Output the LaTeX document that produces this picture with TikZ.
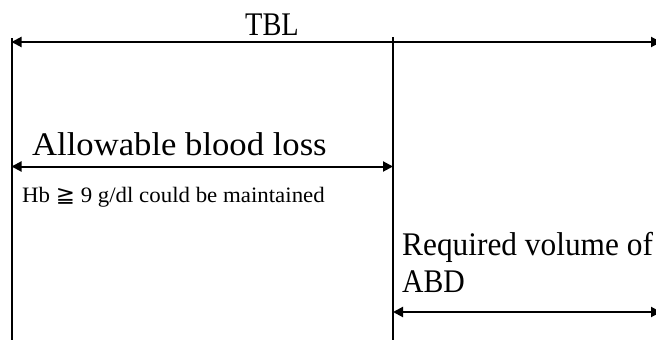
\documentclass[tikz,border=0pt]{standalone}
\usepackage{fontspec}
\usepackage{graphicx}
\setmainfont{Liberation Serif}
\newfontfamily\symfont{DejaVu Sans}
\usetikzlibrary{arrows.meta}
\begin{document}
\begin{tikzpicture}[x=1pt,y=-1pt,
  dimline/.style={line width=2pt,{Triangle[length=10pt,width=10pt]}-{Triangle[length=10pt,width=10pt]}},
  vline/.style={line width=2pt},
  bigtxt/.style={inner sep=0pt,anchor=base west,font=\fontsize{33}{36}\selectfont},
  smalltxt/.style={inner sep=0pt,anchor=base west,font=\fontsize{22}{24}\selectfont}]
\useasboundingbox (0,0) rectangle (656,340);
\coordinate (Ltop) at (11.5,38);
\coordinate (Lbot) at (11.5,342);
\coordinate (Mtop) at (393,37);
\coordinate (Mbot) at (393,342);
\coordinate (T1) at (11.5,42);
\coordinate (T2) at (661,42);
\coordinate (A1) at (11.5,166.5);
\coordinate (A2) at (393,166.5);
\coordinate (R1) at (393,312);
\coordinate (R2) at (661,312);
\draw[vline] (Ltop) -- (Lbot);
\draw[vline] (Mtop) -- (Mbot);
\draw[dimline] (T1) -- (T2);
\draw[dimline] (A1) -- (A2);
\draw[dimline] (R1) -- (R2);
\node[bigtxt] (tbl) at (245,35) {\scalebox{0.86}[1]{TBL}};
\node[bigtxt] (abl) at (32,155) {\scalebox{1.05}[1]{Allowable blood loss}};
\node[smalltxt] (hb) at (22,202) {\scalebox{1.04}[1]{Hb {\symfont ≧} 9 g/dl could be maintained}};
\node[bigtxt] (req) at (402,255) {\scalebox{0.95}[1]{Required volume of}};
\node[bigtxt] (abd) at (402,292) {\scalebox{0.9}[1]{ABD}};
\end{tikzpicture}
\end{document}
